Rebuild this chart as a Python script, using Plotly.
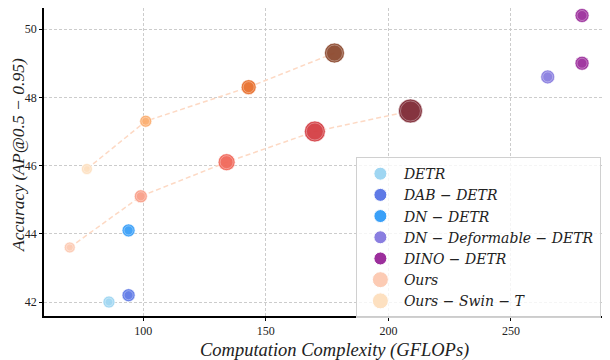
import plotly.graph_objects as go

# ==========================================
# Dados
# ==========================================

detr_x, detr_y = [86], [42.0]
dab_x, dab_y = [94], [42.2]
dn_x, dn_y = [94], [44.1]
dndef_x, dndef_y = [265], [48.6]
dino_x, dino_y = [279, 279], [50.4, 49.0]

ours_x = [70, 99, 134, 170, 209]
ours_y = [43.6, 45.1, 46.1, 47.0, 47.6]
ours_cores = ['#fccbb4', '#f9a08a', '#f1685a', '#d43f44', '#7f2a35']
ours_tam = [11, 13, 17, 21, 24]

swin_x = [77, 101, 143, 178]
swin_y = [45.9, 47.3, 48.3, 49.3]
swin_cores = ['#fde0c0', '#fbae70', '#e8702e', '#8d4a30']
swin_tam = [11, 12, 15, 20]

titulo_x = 'Computation Complexity (GFLOPs)'
titulo_y = 'Accuracy (AP@0.5 − 0.95)'

FONTE = 'Liberation Serif'
FONTE_LEG = 'DejaVu Serif'

fig = go.Figure()


def adicionar_pontos(fig, xs, ys, cores, tamanhos, linha=False):
    """Pontos com borda branca e anel interno (imitando o estilo do matplotlib)."""
    if linha:
        fig.add_trace(go.Scatter(
            x=xs, y=ys, mode='lines',
            line=dict(color='#fdd9c4', width=1.5, dash='5px,3px'),
            showlegend=False, hoverinfo='skip'
        ))
    fig.add_trace(go.Scatter(
        x=xs, y=ys, mode='markers',
        marker=dict(color=cores, size=tamanhos, opacity=0.95,
                    line=dict(color='rgba(255,255,255,0.8)', width=0.8)),
        showlegend=False
    ))
    fig.add_trace(go.Scatter(
        x=xs, y=ys, mode='markers',
        marker=dict(symbol='circle-open', color='rgba(255,255,255,0.75)',
                    size=[t - 4 for t in tamanhos], line=dict(width=0.6)),
        showlegend=False, hoverinfo='skip'
    ))


def adicionar_legenda(fig, nome, cor, tam):
    fig.add_trace(go.Scatter(
        x=[None], y=[None], mode='markers', name=nome,
        marker=dict(color=cor, size=tam, line=dict(color='white', width=1))
    ))


adicionar_pontos(fig, ours_x, ours_y, ours_cores, ours_tam, linha=True)
adicionar_pontos(fig, swin_x, swin_y, swin_cores, swin_tam, linha=True)
adicionar_pontos(fig, detr_x, detr_y, ['#9fd6f2'], [12])
adicionar_pontos(fig, dab_x, dab_y, ['#5f7ae6'], [13])
adicionar_pontos(fig, dn_x, dn_y, ['#3aa0f8'], [13])
adicionar_pontos(fig, dndef_x, dndef_y, ['#8a7ee0'], [14])
adicionar_pontos(fig, dino_x, dino_y, ['#9c2f9c'] * 2, [14, 14])

adicionar_legenda(fig, 'DETR', '#9fd6f2', 13)
adicionar_legenda(fig, 'DAB − DETR', '#5f7ae6', 13)
adicionar_legenda(fig, 'DN − DETR', '#3aa0f8', 13)
adicionar_legenda(fig, 'DN − Deformable − DETR', '#8a7ee0', 13)
adicionar_legenda(fig, 'DINO − DETR', '#9c2f9c', 13)
adicionar_legenda(fig, 'Ours', '#fccbb4', 16)
adicionar_legenda(fig, 'Ours − Swin − T', '#fde0c0', 16)

eixo = dict(
    showline=True, linecolor='black', linewidth=1.5,
    ticks='outside', ticklen=3, tickcolor='black',
    showgrid=True, gridcolor='#cccccc', griddash='3px,2px', gridwidth=0.8,
    zeroline=False, tickfont=dict(family=FONTE, size=12, color='#222'),
    mirror=False, automargin=False
)

fonte_titulo = dict(family=FONTE, size=18.5, style='italic', color='#222')

# a página tem 8px de margem no body: figura de 602x352 preenche a janela
fig.update_layout(
    width=602, height=352,
    plot_bgcolor='white', paper_bgcolor='white',
    margin=dict(l=36, r=1, t=0, b=44),
    xaxis=dict(eixo, range=[59.5, 290], tickvals=[100, 150, 200, 250]),
    yaxis=dict(eixo, range=[41.59, 50.62], tickvals=[42, 44, 46, 48, 50]),
    legend=dict(
        x=0.552, y=0.516, xanchor='left', yanchor='top',
        bgcolor='rgba(255,255,255,0.8)', bordercolor='#d0d0d0', borderwidth=1,
        font=dict(family=FONTE_LEG, size=14, style='italic', color='#222'),
        itemsizing='trace', itemwidth=37, tracegroupgap=0
    ),
    annotations=[
        dict(text=titulo_x, xref='paper', yref='paper', x=0.515, y=0,
             xanchor='center', yanchor='middle', yshift=-34, showarrow=False,
             font=fonte_titulo),
        dict(text=titulo_y, xref='paper', yref='paper', x=0, y=0.523,
             xanchor='center', yanchor='middle', xshift=-26, textangle=-90,
             showarrow=False, font=dict(fonte_titulo, size=17.5)),
    ],
    showlegend=True
)

fig.write_html('out.html')
